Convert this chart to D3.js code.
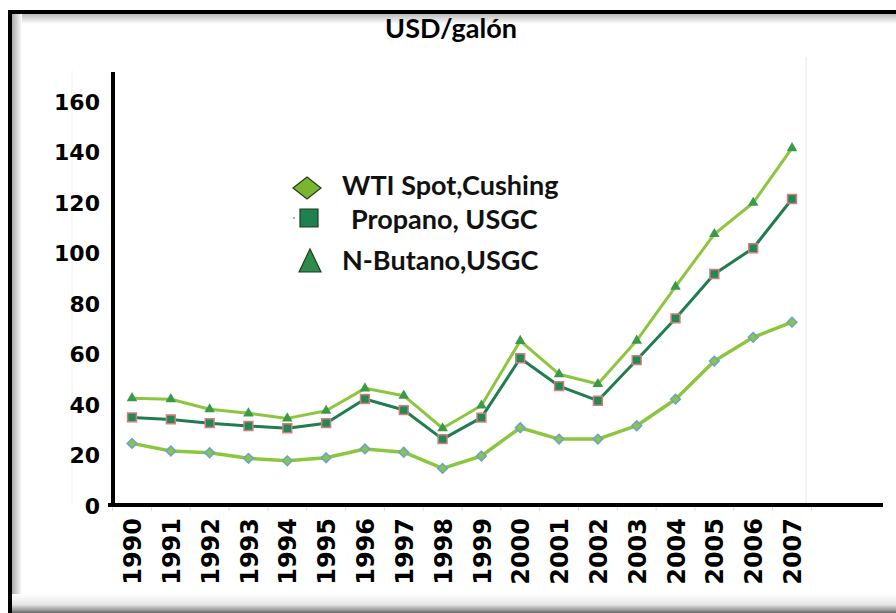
<!DOCTYPE html>
<html lang="es">
<head>
<meta charset="utf-8">
<title>USD/galón</title>
<script src="https://cdn.jsdelivr.net/npm/d3@7/dist/d3.min.js"></script>
<style>
  body { margin: 0; background: #fff; }
  svg { display: block; }
</style>
</head>
<body>
<script>
// data
var years = ["1990","1991","1992","1993","1994","1995","1996","1997","1998","1999",
             "2000","2001","2002","2003","2004","2005","2006","2007"];
var wti     = [24.4, 21.4, 20.7, 18.5, 17.5, 18.7, 22.2, 20.9, 14.5, 19.4,
               30.6, 26.1, 26.1, 31.4, 41.9, 57.0, 66.4, 72.4];
var propano = [34.7, 33.9, 32.4, 31.3, 30.4, 32.4, 42.0, 37.6, 26.1, 34.6,
               58.1, 47.1, 41.3, 57.4, 73.9, 91.5, 101.7, 121.2];
var butano  = [42.3, 41.9, 37.9, 36.3, 34.3, 37.3, 46.2, 43.3, 30.4, 39.4,
               65.0, 51.8, 47.9, 65.1, 86.5, 107.3, 119.7, 141.3];
var seriesNames = ["WTI Spot,Cushing", "Propano, USGC", "N-Butano,USGC"];
var yTicks = [0, 20, 40, 60, 80, 100, 120, 140, 160];

var W = 896, H = 613;
var svg = d3.select("body").append("svg").attr("width", W).attr("height", H);
var defs = svg.append("defs");

svg.append("rect").attr("width", W).attr("height", H).attr("fill", "#fff");

// frame shadows
var gTop = defs.append("linearGradient").attr("id", "shTop").attr("x1", 0).attr("y1", 0).attr("x2", 0).attr("y2", 1);
gTop.append("stop").attr("offset", "0%").attr("stop-color", "#bbb");
gTop.append("stop").attr("offset", "100%").attr("stop-color", "#fff");
var gLeft = defs.append("linearGradient").attr("id", "shLeft").attr("x1", 0).attr("y1", 0).attr("x2", 1).attr("y2", 0);
gLeft.append("stop").attr("offset", "0%").attr("stop-color", "#aaa");
gLeft.append("stop").attr("offset", "100%").attr("stop-color", "#fff");
var gBot = defs.append("linearGradient").attr("id", "shBot").attr("x1", 0).attr("y1", 0).attr("x2", 0).attr("y2", 1);
gBot.append("stop").attr("offset", "0%").attr("stop-color", "#fff");
gBot.append("stop").attr("offset", "55%").attr("stop-color", "#e6e6e6");
gBot.append("stop").attr("offset", "85%").attr("stop-color", "#9a9a9a");
gBot.append("stop").attr("offset", "100%").attr("stop-color", "#666");

svg.append("rect").attr("x", 10).attr("y", 14).attr("width", W - 10).attr("height", 10).attr("fill", "url(#shTop)");
svg.append("rect").attr("x", 12).attr("y", 12).attr("width", 10).attr("height", H - 12).attr("fill", "url(#shLeft)");
svg.append("rect").attr("x", 8).attr("y", 594).attr("width", W - 8).attr("height", 19).attr("fill", "url(#shBot)");
svg.append("line").attr("x1", 8).attr("x2", W).attr("y1", 12).attr("y2", 12)
  .attr("stroke", "#000").attr("stroke-width", 4);
svg.append("line").attr("x1", 10).attr("x2", 10).attr("y1", 10).attr("y2", H)
  .attr("stroke", "#000").attr("stroke-width", 4);

// title
svg.append("text").attr("x", 451).attr("y", 38).attr("text-anchor", "middle")
  .style("font-family", "Lato").style("font-weight", "bold").style("font-size", "27px")
  .text("USD/galón");

// scales
var x = d3.scalePoint().domain(years).range([132, 792]);
var y = d3.scaleLinear().domain([0, 160]).range([505, 101]);
var step = x.step();

// faint plot area edges
svg.append("line").attr("x1", 72).attr("x2", 72).attr("y1", 70).attr("y2", 505)
  .attr("stroke", "#f2f2f2").attr("stroke-width", 1);
svg.append("line").attr("x1", 806).attr("x2", 806).attr("y1", 57).attr("y2", 505)
  .attr("stroke", "#eee").attr("stroke-width", 1.5);

// y axis
var yAxis = svg.append("g").attr("transform", "translate(113,0)")
  .call(d3.axisLeft(y).tickValues(yTicks).tickSize(0).tickPadding(13));
yAxis.select(".domain").remove();
yAxis.selectAll("text")
  .attr("dy", "0.38em")
  .style("font-family", "DejaVu Sans").style("font-weight", "bold").style("font-size", "22px")
  .attr("fill", "#000");
svg.append("line").attr("x1", 113).attr("x2", 113).attr("y1", 72).attr("y2", y(0) + 2)
  .attr("stroke", "#000").attr("stroke-width", 4);

// x axis
var xAxis = svg.append("g").attr("transform", "translate(0," + y(0) + ")")
  .call(d3.axisBottom(x).tickSize(0));
xAxis.select(".domain").remove();
xAxis.selectAll("text")
  .attr("transform", "translate(0,13) rotate(-90)")
  .attr("text-anchor", "end").attr("x", 0).attr("y", 0).attr("dy", "0.36em")
  .style("font-family", "DejaVu Sans").style("font-weight", "bold").style("font-size", "24px")
  .attr("fill", "#000");
// small minor ticks between categories
svg.append("g").selectAll("line").data(years.concat(["2008"]))
  .enter().append("line")
  .attr("x1", function(d, i) { return x(years[0]) + (i - 0.5) * step; })
  .attr("x2", function(d, i) { return x(years[0]) + (i - 0.5) * step; })
  .attr("y1", y(0)).attr("y2", y(0) + 6)
  .attr("stroke", "#ddd").attr("stroke-width", 1);
svg.append("line").attr("x1", 108).attr("x2", 883).attr("y1", y(0)).attr("y2", y(0))
  .attr("stroke", "#000").attr("stroke-width", 4);

// series
var line = d3.line().x(function(d) { return x(d.year); }).y(function(d) { return y(d.v); });
function rows(vals) { return vals.map(function(v, i) { return { year: years[i], v: v }; }); }

var series = [
  { name: seriesNames[0], vals: wti,     line: "#8cc63f", lw: 3.5, sym: d3.symbolDiamond2, size: 60,  fill: "#8cc63f", stroke: "#6a9fd8" },
  { name: seriesNames[1], vals: propano, line: "#1f7d4e", lw: 3,   sym: d3.symbolSquare2,  size: 100, fill: "#1f8a55", stroke: "#d97b7b" },
  { name: seriesNames[2], vals: butano,  line: "#8cc63f", lw: 3,   sym: d3.symbolTriangle2, size: 80, fill: "#3a9a48", stroke: "none" }
];

series.forEach(function(s) {
  svg.append("path").datum(rows(s.vals)).attr("d", line)
    .attr("fill", "none").attr("stroke", s.line).attr("stroke-width", s.lw)
    .attr("stroke-linejoin", "round");
});
series.forEach(function(s) {
  svg.append("g").selectAll("path").data(rows(s.vals)).enter().append("path")
    .attr("transform", function(d) { return "translate(" + x(d.year) + "," + y(d.v) + ")"; })
    .attr("d", d3.symbol().type(s.sym).size(s.size))
    .attr("fill", s.fill).attr("stroke", s.stroke).attr("stroke-width", 1.5);
});

// legend
var legend = svg.append("g");
var legRows = [
  { cx: 307, cy: 188, tx: 342, ty: 195, shape: "diamond", fill: "#7ab530" },
  { cx: 309, cy: 218, tx: 351, ty: 229, shape: "square",  fill: "#1f8050" },
  { cx: 310, cy: 261, tx: 342, ty: 270, shape: "triangle", fill: "#2e8b4a" }
];
legRows.forEach(function(r, i) {
  var p;
  if (r.shape === "diamond") p = "M" + (r.cx - 14) + "," + r.cy + " L" + r.cx + "," + (r.cy - 11) + " L" + (r.cx + 14) + "," + r.cy + " L" + r.cx + "," + (r.cy + 11) + " Z";
  if (r.shape === "square") p = "M" + (r.cx - 9) + "," + (r.cy - 9) + " h18 v18 h-18 Z";
  if (r.shape === "triangle") p = "M" + (r.cx - 11) + "," + (r.cy + 11) + " L" + r.cx + "," + (r.cy - 12) + " L" + (r.cx + 11) + "," + (r.cy + 11) + " Z";
  legend.append("path").attr("d", p).attr("fill", r.fill).attr("stroke", "#1e3d1e").attr("stroke-width", 1.2);
  legend.append("text").attr("x", r.tx).attr("y", r.ty)
    .style("font-family", "Lato").style("font-weight", "bold").style("font-size", "27px")
    .attr("fill", "#111").text(seriesNames[i]);
});
legend.append("circle").attr("cx", 294).attr("cy", 218).attr("r", 1).attr("fill", "#6a9");
</script>
</body>
</html>
